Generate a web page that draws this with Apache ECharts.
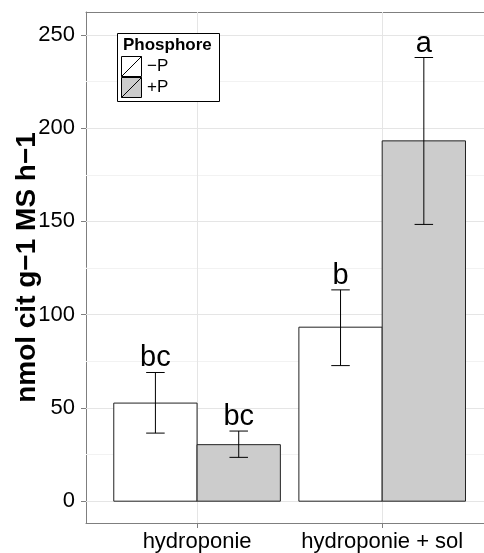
<!DOCTYPE html>
<html>
<head>
<meta charset="utf-8">
<script src="https://cdn.jsdelivr.net/npm/echarts@6/dist/echarts.min.js"></script>
<style>
  html, body { margin: 0; padding: 0; background: #fff; }
  #chart { width: 484px; height: 553px; }
</style>
</head>
<body>
<div id="chart"></div>
<script>
// données
var categories = ['hydroponie', 'hydroponie + sol']
var phosphore = ['\u2212P', '+P']
var meanMinusP = [52.6, 93.3]
var upperMinusP = [69.0, 113.3]
var lowerMinusP = [36.5, 72.7]
var lettersMinusP = ['bc', 'b']
var meanPlusP = [30.3, 193.2]
var upperPlusP = [37.6, 237.9]
var lowerPlusP = [23.5, 148.4]
var lettersPlusP = ['bc', 'a']
var yTicks = [0, 50, 100, 150, 200, 250]
var yMinorTicks = [25, 75, 125, 175, 225]
var xTicks = [1, 2]

var font = 'Liberation Sans, Arial, sans-serif'

function buildData (mean, upper, lower) {
  let rows = []
  for (let i = 0; i < mean.length; i++) {
    rows.push([i + 1, mean[i], upper[i], lower[i]])
  }
  return rows
}

// barre + barre d'erreur + lettre
function barRenderer (offset, fill, letters) {
  return function (params, api) {
    let x = api.value(0) + offset
    let half = 0.225
    let tl = api.coord([x - half, api.value(1)])
    let br = api.coord([x + half, 0])
    let hi = api.coord([x, api.value(2)])
    let lo = api.coord([x, api.value(3)])
    let capL = api.coord([x - 0.05, 0])[0]
    let capR = api.coord([x + 0.05, 0])[0]
    let line = { stroke: '#000', lineWidth: 1 }
    return {
      type: 'group',
      children: [
        { type: 'rect', shape: { x: tl[0], y: tl[1], width: br[0] - tl[0], height: br[1] - tl[1] },
          style: { fill: fill, stroke: '#222', lineWidth: 1 } },
        { type: 'line', shape: { x1: hi[0], y1: hi[1], x2: lo[0], y2: lo[1] }, style: line },
        { type: 'line', shape: { x1: capL, y1: hi[1], x2: capR, y2: hi[1] }, style: line },
        { type: 'line', shape: { x1: capL, y1: lo[1], x2: capR, y2: lo[1] }, style: line },
        { type: 'text', style: { text: letters[params.dataIndex], x: hi[0], y: hi[1] - 14,
          align: 'center', verticalAlign: 'middle', fontSize: 29, fontFamily: font, fill: '#000' } }
      ]
    }
  }
}

function gridLines () {
  let data = []
  for (let i = 0; i < yMinorTicks.length; i++) {
    data.push({ yAxis: yMinorTicks[i], lineStyle: { color: '#f2f2f2' } })
  }
  for (let i = 0; i < yTicks.length; i++) {
    data.push({ yAxis: yTicks[i], lineStyle: { color: '#e5e5e5' } })
  }
  for (let i = 0; i < xTicks.length; i++) {
    data.push({ xAxis: xTicks[i], lineStyle: { color: '#e5e5e5' } })
  }
  return data
}

var chart = echarts.init(document.getElementById('chart'))
var keyIcon = 'path://M0,0L20,0L20,20L0,20ZM0,20L20,0'
var border = { color: '#7f7f7f', width: 1 }

var option = {
  animation: false,
  backgroundColor: '#fff',
  textStyle: { fontFamily: font },
  grid: {
    left: 86,
    right: 0,
    top: 12,
    bottom: 30,
    containLabel: false,
    outerBoundsMode: 'none'
  },
  xAxis: [
    {
      type: 'value',
      min: 0.4,
      max: 2.55,
      splitLine: { show: false },
      axisLine: { show: true, onZero: false, lineStyle: border },
      axisTick: { show: true, customValues: xTicks, length: 5, lineStyle: border },
      axisLabel: {
        customValues: xTicks,
        margin: 8,
        fontSize: 22,
        color: '#000',
        fontFamily: font,
        formatter: function (v) { return categories[Math.round(v) - 1] }
      }
    },
    {
      // bord supérieur du panneau
      type: 'value',
      position: 'top',
      min: 0.4,
      max: 2.55,
      splitLine: { show: false },
      axisLine: { show: true, onZero: false, lineStyle: border },
      axisTick: { show: false },
      axisLabel: { show: false }
    }
  ],
  yAxis: {
    type: 'value',
    min: -11.7,
    max: 262.3,
    name: 'nmol cit g\u22121 MS h\u22121',
    nameLocation: 'middle',
    nameGap: 45,
    nameMoveOverlap: false,
    nameTextStyle: { fontSize: 28, fontWeight: 'bold', color: '#000', fontFamily: font },
    splitLine: { show: false },
    axisLine: { show: true, onZero: false, lineStyle: border },
    axisTick: { show: true, customValues: yTicks, length: 5, lineStyle: border },
    axisLabel: { customValues: yTicks, margin: 11, fontSize: 22, color: '#000', fontFamily: font }
  },
  legend: {
    orient: 'vertical',
    left: 121,
    top: 56,
    z: 8,
    padding: 0,
    itemGap: 0,
    itemWidth: 21,
    itemHeight: 20,
    icon: keyIcon,
    textStyle: { fontSize: 17, color: '#000', fontFamily: font },
    data: [
      { name: phosphore[0], itemStyle: { color: '#fff', borderColor: '#000', borderWidth: 1 } },
      { name: phosphore[1], itemStyle: { color: '#cccccc', borderColor: '#000', borderWidth: 1 } }
    ]
  },
  graphic: [
    { type: 'rect', left: 117, top: 33, z: 4,
      shape: { width: 102, height: 68 },
      style: { fill: '#fff', stroke: '#000', lineWidth: 1 } },
    { type: 'text', left: 123, top: 37, z: 8,
      style: { text: 'Phosphore', fontSize: 17, fontWeight: 'bold', fill: '#000', fontFamily: font } }
  ],
  series: [
    {
      name: 'grille',
      type: 'custom',
      z: 1,
      data: [],
      renderItem: function () { return null },
      markLine: {
        silent: true,
        symbol: 'none',
        z: 1,
        label: { show: false },
        lineStyle: { type: 'solid', width: 1 },
        data: gridLines()
      }
    },
    {
      name: phosphore[0],
      type: 'custom',
      z: 3,
      itemStyle: { color: '#fff', borderColor: '#000', borderWidth: 1 },
      renderItem: barRenderer(-0.225, '#fff', lettersMinusP),
      data: buildData(meanMinusP, upperMinusP, lowerMinusP)
    },
    {
      name: phosphore[1],
      type: 'custom',
      z: 3,
      itemStyle: { color: '#cccccc', borderColor: '#000', borderWidth: 1 },
      renderItem: barRenderer(0.225, '#cccccc', lettersPlusP),
      data: buildData(meanPlusP, upperPlusP, lowerPlusP)
    }
  ]
}
chart.setOption(option)
</script>
</body>
</html>
